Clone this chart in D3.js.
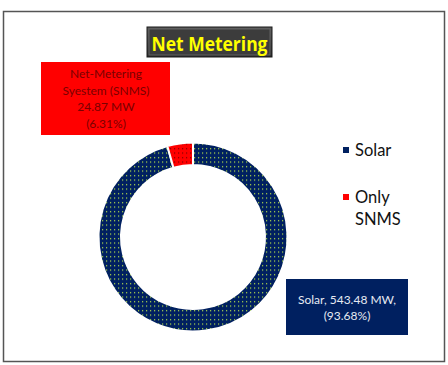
<!DOCTYPE html>
<html><head><meta charset="utf-8">
<script src="https://cdn.jsdelivr.net/npm/d3@7"></script>
<style>body{margin:0;background:#fff;}svg{display:block;}</style>
</head><body>
<script>
const categories = ["Solar", "Only SNMS"];
const values = [543.48, 24.87];
const legendLabels = [["Solar"], ["Only", "SNMS"]];
const labelLines = [["Solar, 543.48 MW,", "(93.68%)"], ["Net-Metering", "Syestem (SNMS)", "24.87 MW", "(6.31%)"]];
const title = "Net Metering";
const colors = ["#002060", "#ff0000"];
const dotColors = ["#b4e04a", "#800000"];

const W = 448, H = 365;
const svg = d3.select("body").append("svg").attr("width", W).attr("height", H);
const defs = svg.append("defs");
colors.forEach((c, i) => {
  const p = defs.append("pattern").attr("id", "pat" + i).attr("patternUnits", "userSpaceOnUse")
    .attr("width", 4).attr("height", 4.5);
  p.append("rect").attr("width", 4).attr("height", 4.5).attr("fill", c);
  p.append("rect").attr("x", 1).attr("y", 1).attr("width", 1.2).attr("height", 1.2).attr("fill", dotColors[i]);
});
const grad = defs.append("linearGradient").attr("id", "tg").attr("x1", 0).attr("y1", 0).attr("x2", 0).attr("y2", 1);
grad.append("stop").attr("offset", 0).attr("stop-color", "#5a5a5a");
grad.append("stop").attr("offset", 1).attr("stop-color", "#2a2a2a");

// outer border
svg.append("rect").attr("x", 3.5).attr("y", 11.5).attr("width", 441).attr("height", 350)
  .attr("fill", "#fff").attr("stroke", "#555").attr("stroke-width", 1.5);

// donut
const cx = 193, cy = 237, R = 94.5, r = 72;
const pie = d3.pie().sort(null).value(d => d);
const arc = d3.arc().innerRadius(r).outerRadius(R);
const g = svg.append("g").attr("transform", `translate(${cx},${cy})`);
g.selectAll("path").data(pie(values)).join("path")
  .attr("d", arc).attr("fill", (d, i) => `url(#pat${i})`)
  .attr("stroke", "#fff").attr("stroke-width", 2);

// title box
const tb = svg.append("g");
tb.append("rect").attr("x", 147).attr("y", 27).attr("width", 125).attr("height", 30)
  .attr("fill", "url(#tg)").attr("stroke", "#1a1a1a").attr("stroke-width", 1);
tb.append("rect").attr("x", 149).attr("y", 29).attr("width", 121).attr("height", 26)
  .attr("fill", "#3c3c3c").attr("stroke", "#6a6a6a").attr("stroke-width", 0.8);
tb.append("text").attr("x", 209.5).attr("y", 50.5).attr("text-anchor", "middle")
  .attr("font-family", "'Open Sans', 'Noto Sans', sans-serif").attr("font-weight", 700).attr("font-size", 20)
  .attr("textLength", 116).attr("lengthAdjust", "spacingAndGlyphs")
  .attr("fill", "#ffff00").text(title);

// red label
svg.append("rect").attr("x", 41).attr("y", 62).attr("width", 129).attr("height", 73).attr("fill", "#ff0000");
svg.append("text").attr("text-anchor", "middle").attr("font-family", "Lato, 'Open Sans', sans-serif")
  .attr("font-size", 12).attr("fill", "#7a0000")
  .selectAll("tspan").data(labelLines[1]).join("tspan")
  .attr("x", 106).attr("y", (d, i) => 78 + i * 16.6).text(d => d);

// navy label
svg.append("rect").attr("x", 286).attr("y", 279).attr("width", 122).attr("height", 56).attr("fill", "#002060");
svg.append("text").attr("text-anchor", "middle").attr("font-family", "Lato, 'Open Sans', sans-serif")
  .attr("font-size", 12).attr("fill", "#e6eaf2")
  .selectAll("tspan").data(labelLines[0]).join("tspan")
  .attr("x", 347).attr("y", (d, i) => 304 + i * 16).text(d => d);

// legend
const lg = svg.append("g");
const legY = [150, 197];
categories.forEach((c, i) => {
  lg.append("rect").attr("x", 343).attr("y", legY[i] - 3).attr("width", 6).attr("height", 6).attr("fill", colors[i]);
  const t = lg.append("text").attr("font-family", "Lato, 'Open Sans', sans-serif").attr("font-size", 16.5).attr("fill", "#111");
  legendLabels[i].forEach((s, j) => {
    t.append("tspan").attr("x", 355).attr("y", legY[i] + 6 + j * 22).text(s);
  });
});
</script>
</body></html>
